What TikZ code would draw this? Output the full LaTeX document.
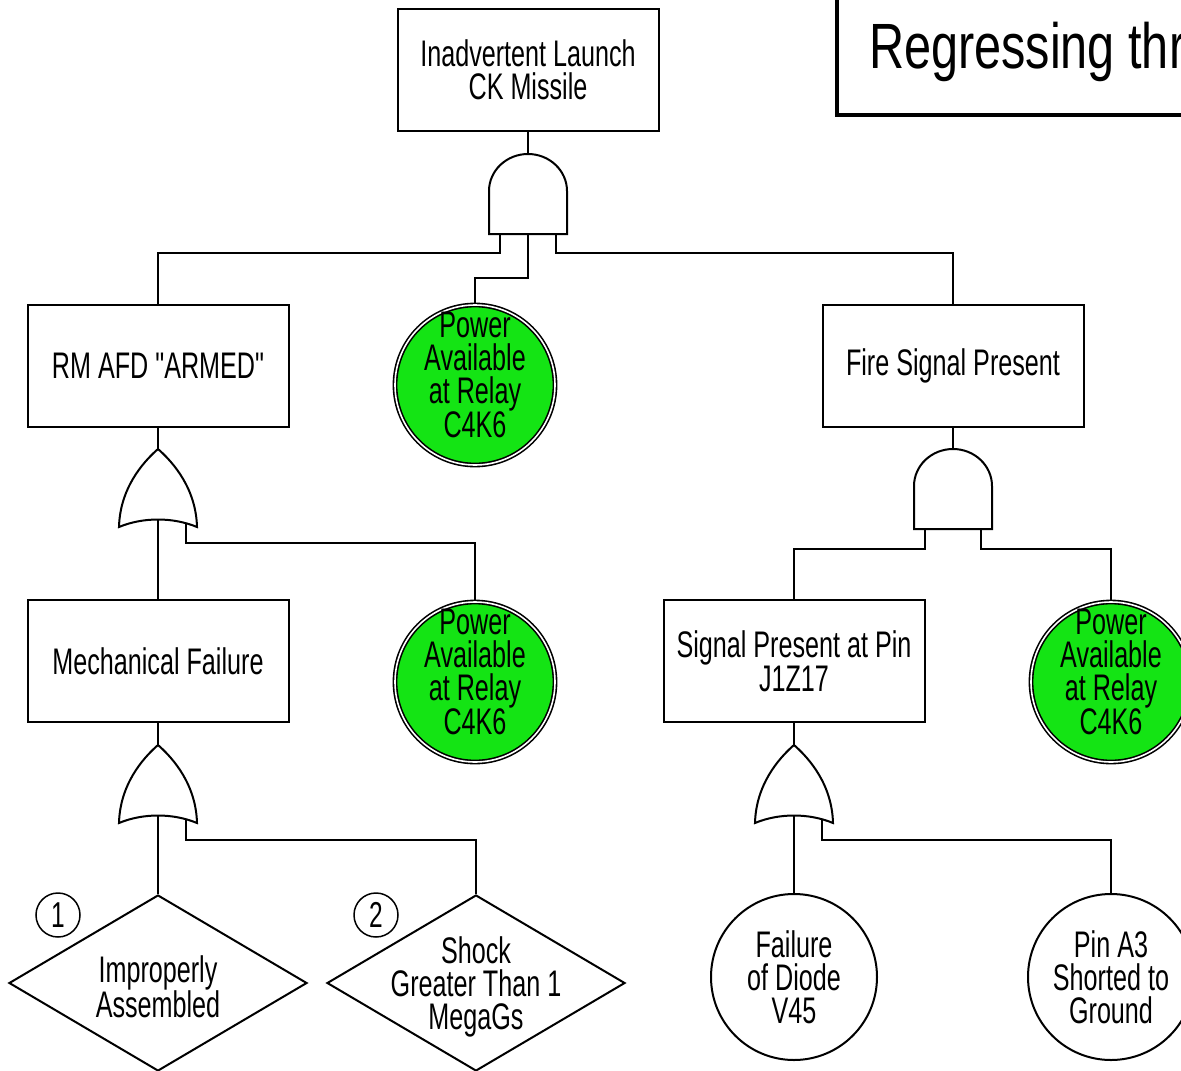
\documentclass[tikz,border=0pt]{standalone}
\usepackage{fontspec}
\setmainfont{Liberation Sans}[FakeStretch=0.68, Ligatures=TeXOff]
\newfontfamily\headfont{Liberation Sans}[FakeStretch=0.76]
\usetikzlibrary{shapes.geometric}
\definecolor{condgreen}{RGB}{20,228,20}

\tikzset{
  txt/.style={font=\fontsize{37}{33}\selectfont, align=center, inner sep=0pt},
  evtbox/.style={draw, rectangle, minimum width=261pt, minimum height=122pt, inner sep=0pt, txt},
  basic/.style={draw, circle, minimum size=166pt, inner sep=0pt, txt},
  cond/.style={draw, circle, fill=condgreen, double=white, double distance=1.6pt,
               line width=1.6pt, minimum size=160pt, inner sep=0pt},
  undev/.style={draw, diamond, minimum width=298pt, minimum height=176pt, inner sep=0pt},
  tag/.style={draw, circle, line width=1.5pt, minimum size=44pt, inner sep=0pt,
              font=\fontsize{36}{36}\selectfont},
  andgate/.pic={
    \draw (-39,80) -- (-39,37) .. controls (-39,16.6) and (-21.5,0) .. (0,0)
          .. controls (21.5,0) and (39,16.6) .. (39,37) -- (39,80) -- cycle;
    \coordinate (-out) at (0,0);
    \coordinate (-inL) at (-28,80);
    \coordinate (-inM) at (0,80);
    \coordinate (-inR) at (28,80);
  },
  orgate/.pic={
    \draw (0,0) .. controls (-16,14) and (-38,40) .. (-39,78)
          .. controls (-15,68) and (15,68) .. (39,78)
          .. controls (38,40) and (16,14) .. (0,0) -- cycle;
    \coordinate (-out) at (0,0);
    \coordinate (-in) at (0,71);
    \coordinate (-inR) at (28,74);
  }
}

\begin{document}
\begin{tikzpicture}[x=1pt, y=-1pt, line width=2pt]
\useasboundingbox (0,0) rectangle (1181,1071);
\clip (0,0) rectangle (1181,1071);

% heading frame, running off the top and right edges
\draw[line width=4pt] (837,-20) rectangle (1300,115);
\node[anchor=base west, inner sep=0pt, font=\headfont\fontsize{64}{64}\selectfont] (heading) at (868,68) {Regressing thr};

% events
\node[evtbox] (top)  at (528,69.5)  {Inadvertent Launch\\CK Missile};
\node[evtbox] (rm)   at (158,365.5) {RM AFD "ARMED"};
\node[evtbox] (fire) at (953,365.5) {Fire Signal Present};
\node[evtbox] (mech) at (158,661)   {Mechanical Failure};
\node[evtbox] (sig)  at (794,661)   {Signal Present at Pin\\J1Z17};

% conditioning events
\node[cond, label={[txt, yshift=10pt]center:{Power\\Available\\at Relay\\C4K6}}] (p1) at (475,385) {};
\node[cond, label={[txt, yshift=10pt]center:{Power\\Available\\at Relay\\C4K6}}] (p2) at (475,682) {};
\node[cond, label={[txt, yshift=10pt]center:{Power\\Available\\at Relay\\C4K6}}] (p3) at (1111,682) {};

% basic events
\node[basic] (diode) at (794,977) {Failure\\of Diode\\V45};
\node[basic] (pin)   at (1111,977) {Pin A3\\Shorted to\\Ground};

% undeveloped events and their tags
\node[undev, label={[txt, yshift=-4pt]center:{Improperly\\Assembled}}] (d1) at (158,983) {};
\node[undev, label={[txt, yshift=-4pt]center:{Shock\\Greater Than 1\\MegaGs}}] (d2) at (476,983) {};
\node[tag] (t1) at (58,915) {1};
\node[tag] (t2) at (376,915) {2};

% gates
\pic (g1) at (528,154) {andgate};
\pic (g2) at (953,449) {andgate};
\pic (o1) at (158,449) {orgate};
\pic (o2) at (158,745) {orgate};
\pic (o3) at (794,745) {orgate};

% connectors
\draw (top.south) -- (g1-out);
\draw (g1-inL) -- ++(0,19) -| (rm.north);
\draw (g1-inM) -- ++(0,44) -| (p1.north);
\draw (g1-inR) -- ++(0,19) -| (fire.north);

\draw (fire.south) -- (g2-out);
\draw (g2-inL) -- ++(0,20) -| (sig.north);
\draw (g2-inR) -- ++(0,20) -| (p3.north);

\draw (rm.south) -- (o1-out);
\draw (o1-in) -- (mech.north);
\draw (o1-inR) -- ++(0,20) -| (p2.north);

\draw (mech.south) -- (o2-out);
\draw (o2-in) -- (d1.north);
\draw (o2-inR) -- ++(0,21) -| (d2.north);

\draw (sig.south) -- (o3-out);
\draw (o3-in) -- (diode.north);
\draw (o3-inR) -- ++(0,21) -| (pin.north);
\end{tikzpicture}
\end{document}
